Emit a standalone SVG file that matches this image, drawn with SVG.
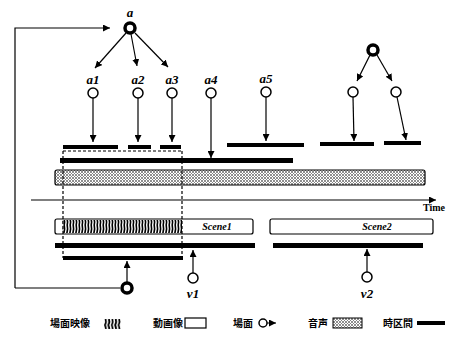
<svg xmlns="http://www.w3.org/2000/svg" width="449" height="337" viewBox="0 0 449 337">
<style>
.lbl{font-family:"Liberation Serif",serif;font-style:italic;font-weight:bold;font-size:13px;fill:#000;text-anchor:middle}
.sc{font-family:"Liberation Serif",serif;font-style:italic;font-weight:bold;font-size:10px;fill:#000;text-anchor:middle}
.lg{font-family:"Noto Sans CJK JP","Noto Sans CJK SC",sans-serif;font-size:10px;font-weight:bold;fill:#000}
.ln{stroke:#000;stroke-width:1.2;fill:none}
.bar{fill:#000}
.node{fill:#fff;stroke:#000;stroke-width:1.5}
.root{fill:#fff;stroke:#000;stroke-width:3.5}
.dash{stroke:#000;stroke-width:1.2;fill:none;stroke-dasharray:3,2}
</style>
<defs>
<marker id="ah" viewBox="0 0 10 10" refX="10" refY="5" markerWidth="7" markerHeight="7" orient="auto" markerUnits="userSpaceOnUse"><path d="M0,0 L10,5 L0,10 z" fill="#000"/></marker>
<pattern id="dots" width="3" height="3" patternUnits="userSpaceOnUse"><rect width="3" height="3" fill="#fff"/><circle cx="1" cy="1" r="0.8" fill="#000"/><circle cx="2.5" cy="2.5" r="0.5" fill="#555"/></pattern>
<pattern id="hatch" width="3" height="15" patternUnits="userSpaceOnUse"><rect width="3" height="15" fill="#fff"/><path d="M1.2,0 L1.6,4 L0.9,8 L1.6,12 L1.2,15" stroke="#000" stroke-width="1.6" fill="none"/></pattern>
<pattern id="hatch2" x="104" y="319" width="3.4" height="10" patternUnits="userSpaceOnUse"><rect width="3.4" height="10" fill="#fff"/><path d="M1.5,0 L2,3 L1,6 L2,10" stroke="#000" stroke-width="1.8" fill="none"/></pattern>
</defs>

<g id="connectors">
<path class="ln" d="M15,288 L15,28 L110,28" marker-end="url(#ah)"/>
<path class="ln" d="M15,288 L120,288"/>
<line class="ln" x1="126" y1="33" x2="95" y2="68" marker-end="url(#ah)"/>
<line class="ln" x1="131" y1="34" x2="137" y2="66" marker-end="url(#ah)"/>
<line class="ln" x1="135" y1="33" x2="168" y2="67" marker-end="url(#ah)"/>
<line class="ln" x1="93" y1="98" x2="93" y2="142" marker-end="url(#ah)"/>
<line class="ln" x1="138" y1="98" x2="138" y2="142" marker-end="url(#ah)"/>
<line class="ln" x1="172" y1="98" x2="172" y2="142" marker-end="url(#ah)"/>
<line class="ln" x1="211" y1="98" x2="211" y2="158" marker-end="url(#ah)"/>
<line class="ln" x1="266" y1="97" x2="266" y2="141" marker-end="url(#ah)"/>
<line class="ln" x1="370" y1="55" x2="357" y2="81" marker-end="url(#ah)"/>
<line class="ln" x1="377" y1="55" x2="392" y2="81" marker-end="url(#ah)"/>
<line class="ln" x1="353" y1="97" x2="354" y2="141" marker-end="url(#ah)"/>
<line class="ln" x1="397" y1="97" x2="406" y2="140" marker-end="url(#ah)"/>
<line class="ln" x1="31" y1="200" x2="436" y2="200" marker-end="url(#ah)"/>
<line class="ln" x1="127" y1="282" x2="127" y2="261" marker-end="url(#ah)"/>
<line class="ln" x1="193" y1="273" x2="193" y2="250" marker-end="url(#ah)"/>
<line class="ln" x1="367" y1="272" x2="367" y2="249" marker-end="url(#ah)"/>
</g>

<g id="bars">
<rect class="bar" x="63" y="145" width="55" height="4"/>
<rect class="bar" x="128" y="145" width="23" height="4"/>
<rect class="bar" x="160" y="145" width="21" height="4"/>
<rect class="bar" x="227" y="143" width="77" height="4"/>
<rect class="bar" x="320" y="142" width="54" height="4"/>
<rect class="bar" x="384" y="141" width="37" height="4"/>
<rect class="bar" x="60" y="158" width="233" height="5"/>
<rect class="bar" x="55" y="243" width="200" height="5"/>
<rect class="bar" x="273" y="243" width="150" height="5"/>
<rect class="bar" x="63" y="256" width="120" height="4"/>
</g>

<g id="audio">
<rect x="55" y="170" width="370" height="15" rx="2" fill="url(#dots)" stroke="#000" stroke-width="1.2"/>
</g>

<g id="scene1">
<rect x="55" y="219" width="198" height="15" rx="2" fill="#fff" stroke="#000" stroke-width="1.2"/>
<rect x="62" y="220" width="120" height="13" fill="url(#hatch)"/>
<text class="sc" x="217" y="230">Scene1</text>
</g>
<g id="scene2">
<rect x="270" y="219" width="163" height="15" rx="2" fill="#fff" stroke="#000" stroke-width="1.2"/>
<text class="sc" x="377" y="230">Scene2</text>
</g>

<g id="dashed-box">
<path class="dash" d="M63,151 L182,151 M63,151 L63,258 M182,151 L182,258"/>
</g>

<g id="time"><text x="445" y="211" font-family="Liberation Serif,serif" font-weight="bold" font-size="10" text-anchor="end">Time</text></g>

<g id="node-a"><circle class="root" cx="130" cy="28" r="5"/><text class="lbl" x="130" y="17">a</text></g>
<g id="node-a1"><circle class="node" cx="93" cy="93" r="5"/><text class="lbl" x="93" y="84">a1</text></g>
<g id="node-a2"><circle class="node" cx="138" cy="93" r="5"/><text class="lbl" x="138" y="84">a2</text></g>
<g id="node-a3"><circle class="node" cx="172" cy="93" r="5"/><text class="lbl" x="172" y="84">a3</text></g>
<g id="node-a4"><circle class="node" cx="211" cy="93" r="5"/><text class="lbl" x="211" y="84">a4</text></g>
<g id="node-a5"><circle class="node" cx="266" cy="92" r="5"/><text class="lbl" x="266" y="83">a5</text></g>
<g id="node-b"><circle class="root" cx="373" cy="50" r="5"/></g>
<g id="node-b1"><circle class="node" cx="353" cy="92" r="5"/></g>
<g id="node-b2"><circle class="node" cx="396" cy="92" r="5"/></g>
<g id="node-v"><circle class="root" cx="127" cy="288" r="5"/></g>
<g id="node-v1"><circle class="node" cx="193" cy="278" r="5"/><text class="lbl" x="193" y="298">v1</text></g>
<g id="node-v2"><circle class="node" cx="367" cy="277" r="5"/><text class="lbl" x="367" y="298">v2</text></g>

<g id="legend">
<text class="lg" x="50" y="327">場面映像</text>
<rect x="104" y="319" width="17" height="10" fill="url(#hatch2)"/>
<text class="lg" x="153" y="327">動画像</text>
<rect x="185" y="318" width="21" height="10" fill="#fff" stroke="#000" stroke-width="1.2"/>
<text class="lg" x="233" y="327">場面</text>
<circle cx="263" cy="323" r="4" fill="#fff" stroke="#000" stroke-width="1.5"/>
<line x1="267" y1="323" x2="276" y2="323" stroke="#000" stroke-width="1" marker-end="url(#ah)"/>
<text class="lg" x="308" y="327">音声</text>
<rect x="333" y="318" width="29" height="10" fill="url(#dots)" stroke="#000" stroke-width="1"/>
<text class="lg" x="383" y="327">時区間</text>
<rect x="417" y="321" width="28" height="4" fill="#000"/>
</g>
</svg>
